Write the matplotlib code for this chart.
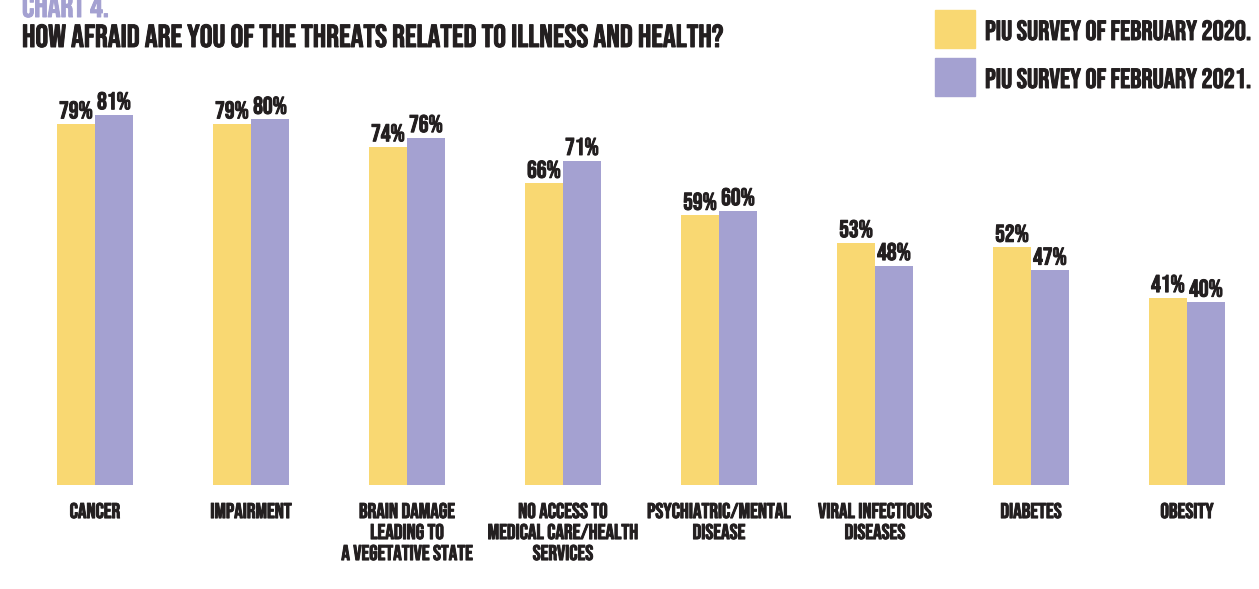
import matplotlib
matplotlib.use("Agg")
import matplotlib.pyplot as plt
import matplotlib.patheffects as pe
import numpy as np

plt.rcParams['font.family'] = ['Bebas Neue', 'Oswald', 'Archivo Narrow', 'DejaVu Sans']

categories = ["CANCER", "IMPAIRMENT", "BRAIN DAMAGE\nLEADING TO\nA VEGETATIVE STATE",
              "NO ACCESS TO\nMEDICAL CARE/HEALTH\nSERVICES", "PSYCHIATRIC/MENTAL\nDISEASE",
              "VIRAL INFECTIOUS\nDISEASES", "DIABETES", "OBESITY"]
survey_2020 = [79, 79, 74, 66, 59, 53, 52, 41]
survey_2021 = [81, 80, 76, 71, 60, 48, 47, 40]
series_names = ["PIU SURVEY OF FEBRUARY 2020.", "PIU SURVEY OF FEBRUARY 2021."]

yellow = "#f9d872"
purple = "#a4a1d1"
dark = "#231f20"

# fake a heavier weight, the font only has a regular cut
bold_dark = [pe.withStroke(linewidth=0.7, foreground=dark)]
bold_purple = [pe.withStroke(linewidth=0.7, foreground=purple)]

fig = plt.figure(figsize=(12.59, 5.89), dpi=100)
# axes spans whole width, bar baseline at pixel 485
ax = fig.add_axes([0, (589 - 485) / 589, 1, 485 / 589])
ax.set_xlim(-95 / 156, (1259 - 95) / 156)
ax.set_ylim(0, 485 / 4.57)

x = np.arange(len(categories))
w = 38 / 156
b1 = ax.bar(x - w / 2, survey_2020, w, color=yellow)
b2 = ax.bar(x + w / 2, survey_2021, w, color=purple)

for bars, vals in [(b1, survey_2020), (b2, survey_2021)]:
    for bar, v in zip(bars, vals):
        ax.annotate(f"{v}%", (bar.get_x() + bar.get_width() / 2, v),
                    xytext=(0, 4), textcoords="offset points",
                    ha="center", va="bottom", fontsize=17.5, color=dark,
                    path_effects=bold_dark)

ax.set_xticks(x)
ax.set_xticklabels(categories, fontsize=15.4, color=dark, linespacing=1.4)
for lbl in ax.get_xticklabels():
    lbl.set_path_effects(bold_dark)
ax.tick_params(axis="x", length=0, pad=13)
ax.set_yticks([])
for s in ax.spines.values():
    s.set_visible(False)

# title
fig.text(22 / 1259, 1 - 17 / 589, "CHART 4.", fontsize=23, color=purple,
         va="baseline", ha="left", path_effects=bold_purple)
fig.text(22 / 1259, 1 - 47 / 589,
         "HOW AFRAID ARE YOU OF THE THREATS RELATED TO ILLNESS AND HEALTH?",
         fontsize=23, color=dark, va="baseline", ha="left", path_effects=bold_dark)

# legend
for i, (name, col) in enumerate(zip(series_names, [yellow, purple])):
    top = 10 + i * 48
    fig.patches.append(plt.Rectangle((935 / 1259, 1 - (top + 38) / 589), 40 / 1259, 38 / 589,
                                     transform=fig.transFigure, color=col, figure=fig))
    fig.text(985 / 1259, 1 - (top + 30) / 589, name, fontsize=20, color=dark,
             va="baseline", ha="left", path_effects=bold_dark)

fig.savefig("out.png", dpi=100)
